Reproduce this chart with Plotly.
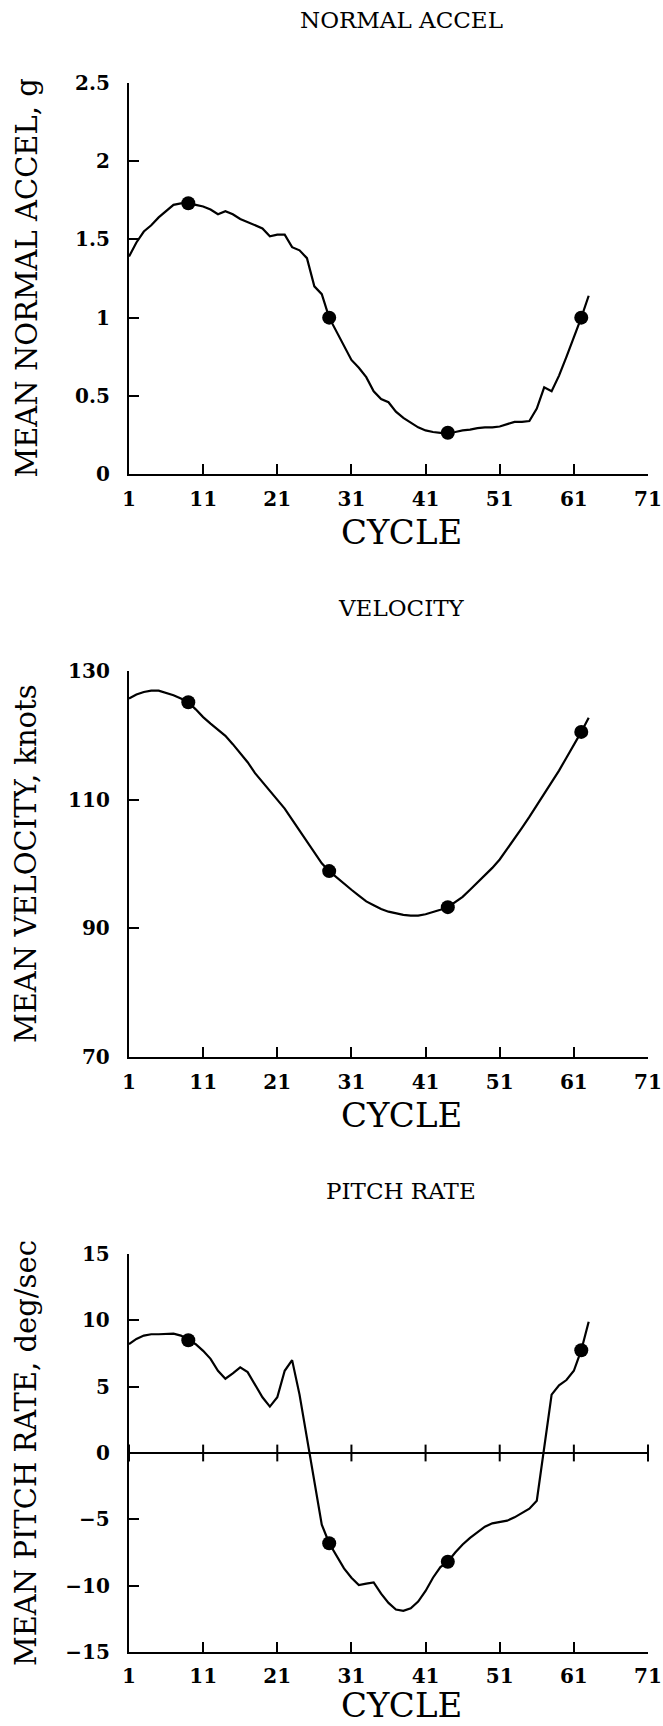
import plotly.graph_objects as go

# Cycle numbers and per-cycle mean values for the three flight parameters
cycles = list(range(1, 64))

normal_accel = [
    1.39, 1.48, 1.55, 1.59, 1.64, 1.68, 1.72, 1.73, 1.73, 1.72,
    1.71, 1.69, 1.66, 1.68, 1.66, 1.63, 1.61, 1.59, 1.57, 1.52,
    1.53, 1.53, 1.45, 1.43, 1.38, 1.20, 1.15, 1.00, 0.91, 0.82,
    0.73, 0.68, 0.62, 0.53, 0.48, 0.46, 0.40, 0.36, 0.33, 0.30,
    0.28, 0.27, 0.265, 0.265, 0.27, 0.28, 0.285, 0.295, 0.30, 0.30,
    0.305, 0.32, 0.335, 0.335, 0.34, 0.42, 0.555, 0.53, 0.63, 0.75,
    0.87, 1.00, 1.14,
]

velocity = [
    125.7, 126.3, 126.7, 126.9, 126.9, 126.6, 126.2, 125.7, 125.1, 124.0,
    122.8, 121.8, 120.8, 119.9, 118.6, 117.2, 115.8, 114.1, 112.7, 111.4,
    110.0, 108.6, 106.9, 105.2, 103.3, 101.6, 100.1, 98.9, 97.9, 97.0,
    96.0, 95.1, 94.2, 93.6, 93.0, 92.6, 92.3, 92.1, 92.0, 92.0,
    92.2, 92.5, 92.9, 93.3, 94.1, 94.9, 96.0, 97.1, 98.2, 99.4,
    100.7, 102.3, 104.0, 105.6, 107.3, 109.1, 110.8, 112.6, 114.5, 116.5,
    118.4, 120.5, 122.7,
]

pitch_rate = [
    8.2, 8.6, 8.85, 8.95, 8.95, 8.95, 9.0, 8.85, 8.5, 8.2,
    7.7, 7.1, 6.2, 5.6, 6.0, 6.45, 6.1, 5.1, 4.2, 3.5,
    4.2, 6.2, 7.0, 4.4, 1.2, -2.3, -5.4, -6.8, -7.8, -8.7,
    -9.4, -9.95, -9.85, -9.75, -10.6, -11.3, -11.8, -11.9, -11.7, -11.2,
    -10.4, -9.4, -8.6, -8.2, -7.5, -6.9, -6.4, -5.95, -5.55, -5.3,
    -5.2, -5.1, -4.85, -4.5, -4.2, -3.6, 0.3, 4.4, 5.1, 5.5,
    6.2, 7.75, 9.9,
]

# Cycles highlighted with a dot on every curve
marked_cycles = [9, 28, 44, 62]

x_ticks = [1, 11, 21, 31, 41, 51, 61, 71]

panels = [
    dict(title="NORMAL ACCEL", ytitle="MEAN NORMAL ACCEL, g", values=normal_accel,
         yrange=[0, 2.5], dtick=0.5, top=82.7, bottom=474.3, xlabel_gap=58),
    dict(title="VELOCITY", ytitle="MEAN VELOCITY, knots", values=velocity,
         yrange=[70, 130], dtick=20, top=670.7, bottom=1057.3, xlabel_gap=58),
    dict(title="PITCH RATE", ytitle="MEAN PITCH RATE, deg/sec", values=pitch_rate,
         yrange=[-15, 15], dtick=5, top=1254.0, bottom=1652.0, xlabel_gap=53),
]

W, H = 663, 1726
X_LEFT, X_RIGHT = 129.0, 648.0

SERIF = "DejaVu Serif"

def px_x(p):
    return p / W

def px_y(p):
    return 1 - p / H

fig = go.Figure()

axis_common = dict(
    showline=True, linecolor="black", linewidth=2.4, mirror=False,
    ticks="inside", ticklen=10, tickwidth=2, tickcolor="black",
    showgrid=False, zeroline=False, automargin=False,
    tickfont=dict(family=SERIF, size=20, color="black", weight="bold"),
)

annotations = []
for i, p in enumerate(panels, start=1):
    xa = "x" if i == 1 else f"x{i}"
    ya = "y" if i == 1 else f"y{i}"
    dom_y = [px_y(p["bottom"]), px_y(p["top"])]

    fig.add_trace(go.Scatter(
        x=cycles, y=p["values"], mode="lines",
        line=dict(color="black", width=2.2),
        xaxis=xa, yaxis=ya, showlegend=False, hoverinfo="skip",
    ))
    fig.add_trace(go.Scatter(
        x=marked_cycles,
        y=[p["values"][cycles.index(c)] for c in marked_cycles],
        mode="markers", marker=dict(color="black", size=14),
        xaxis=xa, yaxis=ya, showlegend=False, hoverinfo="skip",
    ))

    xkey = "xaxis" if i == 1 else f"xaxis{i}"
    ykey = "yaxis" if i == 1 else f"yaxis{i}"
    fig.update_layout({
        xkey: dict(axis_common, domain=[px_x(X_LEFT), px_x(X_RIGHT)], anchor=ya,
                   range=[1, 71], tickvals=x_ticks, ticklabelstandoff=5),
        ykey: dict(axis_common, domain=dom_y, anchor=xa,
                   range=p["yrange"], dtick=p["dtick"], tick0=p["yrange"][0],
                   ticklabelstandoff=13),
    })

    mid = (p["top"] + p["bottom"]) / 2
    annotations.append(dict(
        text=p["title"], x=px_x(401), y=px_y(p["top"] - 63),
        xref="paper", yref="paper", xanchor="center", yanchor="middle",
        showarrow=False, font=dict(family=SERIF, size=23, color="black"),
    ))
    annotations.append(dict(
        text=p["ytitle"], x=px_x(26), y=px_y(mid), textangle=-90,
        xref="paper", yref="paper", xanchor="center", yanchor="middle",
        showarrow=False, font=dict(family=SERIF, size=29, color="black"),
    ))
    annotations.append(dict(
        text="CYCLE", x=px_x(401), y=px_y(p["bottom"] + p["xlabel_gap"]),
        xref="paper", yref="paper", xanchor="center", yanchor="middle",
        showarrow=False, font=dict(family=SERIF, size=34, color="black"),
    ))

# Zero reference line on the pitch-rate panel, with short ticks crossing it
fig.update_layout(yaxis3=dict(zeroline=True, zerolinecolor="black", zerolinewidth=2.2))
fig.add_trace(go.Scatter(
    x=x_ticks, y=[0] * len(x_ticks), mode="markers",
    marker=dict(symbol="line-ns", size=12, line=dict(color="black", width=2)),
    xaxis="x3", yaxis="y3", showlegend=False, hoverinfo="skip", cliponaxis=False,
))

fig.update_layout(
    width=W, height=H,
    margin=dict(l=0, r=0, t=0, b=0, autoexpand=False),
    paper_bgcolor="white", plot_bgcolor="white",
    annotations=annotations,
    showlegend=False,
)

fig.write_html("out.html")
